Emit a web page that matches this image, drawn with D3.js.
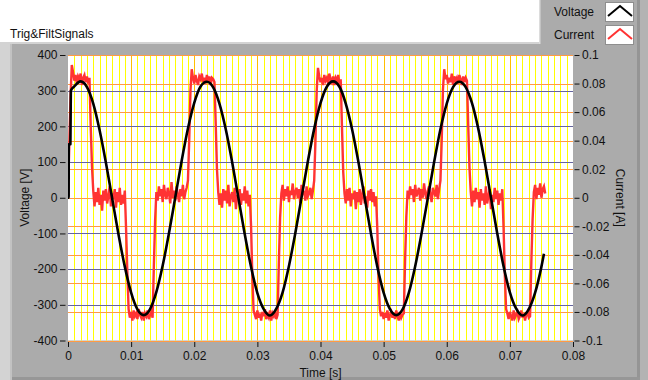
<!DOCTYPE html>
<html>
<head>
<meta charset="utf-8">
<script src="https://d3js.org/d3.v7.min.js"></script>
<style>
body { margin: 0; background: #fff; }
svg text { font-family: "Liberation Sans", Arial, sans-serif; font-size: 12px; fill: #111; }
.axis path.domain { display: none; }
.axis line { stroke: #111; }
</style>
</head>
<body>
<svg width="648" height="380"></svg>
<script>
// voltage samples (time in ms, value in V)
var voltTimeMs = [0, 0.1, 0.12, 0.38, 0.45,
  1, 2, 3, 4, 5, 6, 7, 8, 9, 10, 11, 12, 13, 14, 15, 16, 17, 18, 19, 20,
  21, 22, 23, 24, 25, 26, 27, 28, 29, 30, 31, 32, 33, 34, 35, 36, 37, 38, 39, 40,
  41, 42, 43, 44, 45, 46, 47, 48, 49, 50, 51, 52, 53, 54, 55, 56, 57, 58, 59, 60,
  61, 62, 63, 64, 65, 66, 67, 68, 69, 70, 71, 72, 73, 74, 75, 75.4];
var voltage = [0, 0, 150, 150, 300,
  312, 326, 310, 264, 190, 99, -2, -103, -193, -266, -313, -329, -312, -264, -190, -99, 2, 103, 194, 266,
  312, 325, 309, 263, 191, 100, -1, -102, -194, -267, -312, -330, -311, -265, -191, -100, 1, 102, 193, 265,
  311, 326, 311, 264, 192, 101, 0, -101, -193, -266, -312, -329, -313, -266, -192, -101, -1, 100, 192, 264,
  310, 325, 310, 265, 193, 102, 1, -100, -192, -265, -311, -330, -312, -266, -193, -157];

// current samples every 0.2 ms, value in mA
var currentStepMs = 0.2;
var currentMA = [
  // period 1
  2, 36, 70, 93, 88,
  82, 86, 80, 85, 83, 87, 79, 84, 86, 81, 85, 80, 84,
  50, 22, 5,
  -6, 4, -3, 7, -5, 2, -9, 5, -2, 6, -4, 1, 8, -6, 3, -1, 6, -7, 4, -3, 7, -5, 2, -4, 5,
  -22, -52, -78,
  -84, -80, -86, -79, -83, -81, -85, -78, -82, -84, -80, -86, -81, -83, -79, -85, -82, -80, -84,
  -48, -16,
  4, -2, 8, 1, 6, -3, 9, 2, -1, 7, 3, -4, 11, 0, 5, -2, 8, 2, -3, 6, 1, 9, -1, 4, 7,
  12,
  // period 2
  40, 75, 90,
  84, 80, 86, 82, 79, 85, 83, 87, 81, 84, 80, 86, 82, 85, 79, 84, 83, 81,
  52, 20, 4,
  -5, 3, -7, 6, -2, 5, -4, 9, -6, 1, 4, -3, 7, -8, 2, -1, 6, -5, 3, -2, 8, -4, 5, -6, 2,
  -20, -55, -79,
  -82, -85, -79, -84, -81, -86, -80, -83, -78, -85, -82, -84, -79, -86, -81, -83, -80, -85, -82,
  -46, -14,
  3, 9, -2, 6, 1, 8, -3, 5, 2, 10, -1, 4, 7, 0, 6, -4, 9, 2, 5, -2, 8, 1, 3, 7, -1, 5,
  12,
  // period 3
  40, 75, 91,
  85, 81, 84, 79, 86, 82, 84, 80, 87, 83, 81, 85, 79, 84, 82, 86, 80, 83,
  50, 18, 3,
  -4, 6, -2, 7, -6, 3, -1, 5, -8, 4, -3, 6, -5, 2, 8, -4, 1, -7, 5, -2, 6, -3, 4, -6, 1,
  -22, -56, -78,
  -83, -80, -85, -81, -84, -79, -86, -82, -80, -84, -81, -85, -79, -83, -86, -80, -84, -82, -81,
  -44, -13,
  5, -1, 8, 2, 6, -3, 9, 1, 4, 7, -2, 6, 0, 10, 3, -1, 5, 8, 2, -3, 7, 4, 1, 9, -1, 6,
  12,
  // period 4
  40, 76, 90,
  83, 86, 80, 84, 81, 87, 79, 85, 82, 84, 80, 86, 83, 79, 85, 81, 84, 82,
  51, 21, 4,
  -6, 5, -3, 7, -1, 4, -7, 6, -2, 3, -5, 8, -4, 1, 6, -8, 2, -3, 7, -1, 5, -5, 3, -2, 6,
  -21, -54, -78,
  -81, -85, -80, -83, -86, -79, -84, -82, -80, -85, -83, -79, -84, -81, -86, -82, -80, -84, -83,
  -45, -15,
  4, 9, -1, 7, 2, 10, 0, 6, 8, 3
];

var voltTicks = [-400, -300, -200, -100, 0, 100, 200, 300, 400];
var currentTicks = [-0.1, -0.08, -0.06, -0.04, -0.02, 0, 0.02, 0.04, 0.06, 0.08, 0.1];
var timeTicks = [0, 0.01, 0.02, 0.03, 0.04, 0.05, 0.06, 0.07, 0.08];
var seriesNames = ['Voltage', 'Current'];
var seriesColors = ['#000000', '#ff3333'];

var pL = 68, pR = 573, pT = 55, pB = 340.5;
var svg = d3.select('svg');

// frame / panel
svg.append('rect').attr('x', 0).attr('y', 42).attr('width', 648).attr('height', 338).attr('fill', '#d3d3d3');
svg.append('rect').attr('x', 12).attr('y', 44).attr('width', 628).attr('height', 333).attr('fill', '#ababab');
svg.append('rect').attr('x', 637).attr('y', 0).attr('width', 3).attr('height', 377).attr('fill', '#959595');
svg.append('rect').attr('x', 640).attr('y', 0).attr('width', 8).attr('height', 380).attr('fill', '#b3b3b3');
svg.append('rect').attr('x', 12).attr('y', 377).attr('width', 628).attr('height', 3).attr('fill', '#979797');
svg.append('rect').attr('x', 10).attr('y', 44).attr('width', 2).attr('height', 336).attr('fill', '#c2c2c2');

// legend box
svg.append('rect').attr('x', 539).attr('y', 0).attr('width', 98).attr('height', 44).attr('fill', '#ababab');
svg.append('rect').attr('x', 539).attr('y', 0).attr('width', 1.5).attr('height', 44).attr('fill', '#dcdcdc');

svg.append('text').attr('x', 10).attr('y', 38).text('Trig&FiltSignals');

var x = d3.scaleLinear().domain([0, 0.08]).range([pL, pR]);
var yV = d3.scaleLinear().domain([-400, 400]).range([pB, pT]);
var yI = d3.scaleLinear().domain([-0.1, 0.1]).range([pB, pT]);

svg.append('rect').attr('x', pL).attr('y', pT).attr('width', pR - pL).attr('height', pB - pT).attr('fill', '#fff');

svg.append('clipPath').attr('id', 'plotclip').append('rect')
  .attr('x', pL).attr('y', pT).attr('width', pR - pL).attr('height', pB - pT);

var grid = svg.append('g');
var minor = x.ticks(80).filter(function(d) { return Math.abs(d * 100 - Math.round(d * 100)) > 1e-6; });
grid.selectAll('.vmin').data(minor).enter().append('line')
  .attr('x1', function(d) { return Math.round(x(d)) + 0.5; }).attr('x2', function(d) { return Math.round(x(d)) + 0.5; })
  .attr('y1', pT).attr('y2', pB).attr('stroke', '#ffff00');
grid.selectAll('.vmaj').data(timeTicks.slice(1, -1)).enter().append('line')
  .attr('x1', function(d) { return Math.round(x(d)) + 0.5; }).attr('x2', function(d) { return Math.round(x(d)) + 0.5; })
  .attr('y1', pT).attr('y2', pB).attr('stroke', '#ffbf00');
grid.selectAll('.hv').data(voltTicks).enter().append('line')
  .attr('x1', pL).attr('x2', pR)
  .attr('y1', function(d) { return Math.round(yV(d)) + 0.5; }).attr('y2', function(d) { return Math.round(yV(d)) + 0.5; })
  .attr('stroke', '#64649e');
grid.selectAll('.hi').data(currentTicks).enter().append('line')
  .attr('x1', pL).attr('x2', pR)
  .attr('y1', function(d) { return Math.round(yI(d)) + 0.5; }).attr('y2', function(d) { return Math.round(yI(d)) + 0.5; })
  .attr('stroke', '#ff9a45');

var plot = svg.append('g').attr('clip-path', 'url(#plotclip)');

var currentLine = d3.line()
  .x(function(d, i) { return x(i * currentStepMs / 1000); })
  .y(function(d) { return yI(d / 1000); });
plot.append('path').datum(currentMA).attr('d', currentLine)
  .attr('fill', 'none').attr('stroke', seriesColors[1]).attr('stroke-width', 2.4).attr('stroke-linejoin', 'miter');

var voltLine = d3.line()
  .x(function(d, i) { return x(voltTimeMs[i] / 1000); })
  .y(function(d) { return yV(d); })
  .curve(d3.curveMonotoneX);
plot.append('path').datum(voltage).attr('d', voltLine)
  .attr('fill', 'none').attr('stroke', seriesColors[0]).attr('stroke-width', 2.6).attr('stroke-linejoin', 'round');

// axes
svg.append('g').attr('class', 'axis').attr('transform', 'translate(65.5,0)')
  .call(d3.axisLeft(yV).tickValues(voltTicks).tickSize(5.5).tickPadding(2.5).tickFormat(function(d) { return String(d); }));
svg.append('g').attr('class', 'axis').attr('transform', 'translate(574.5,0)')
  .call(d3.axisRight(yI).tickValues(currentTicks).tickSize(5).tickPadding(2.5).tickFormat(function(d) { return String(+d.toFixed(2)); }));
svg.append('g').attr('class', 'axis').attr('transform', 'translate(0,342)')
  .call(d3.axisBottom(x).tickValues(timeTicks).tickSize(5).tickPadding(4).tickFormat(function(d) { return String(+d.toFixed(2)); }));
svg.selectAll('.axis text').style('font-size', '12px')
  .style('font-family', '"Liberation Sans Narrow", "Liberation Sans", Arial, sans-serif');

svg.append('text').attr('x', (pL + pR) / 2).attr('y', 376.5).attr('text-anchor', 'middle').text('Time [s]');
svg.append('text').attr('transform', 'translate(29,' + ((pT + pB) / 2) + ') rotate(-90)')
  .attr('text-anchor', 'middle').text('Voltage [V]');
svg.append('text').attr('transform', 'translate(616,' + ((pT + pB) / 2) + ') rotate(90)')
  .attr('text-anchor', 'middle').text('Current [A]');

// legend
var leg = svg.append('g').selectAll('g').data(seriesNames).enter().append('g')
  .attr('transform', function(d, i) { return 'translate(0,' + (i * 23) + ')'; });
leg.append('text').attr('x', 554).attr('y', 16).text(function(d) { return d; });
leg.append('rect').attr('x', 605.5).attr('y', 2.5).attr('width', 28).attr('height', 19)
  .attr('fill', '#fff').attr('stroke', '#8e8e8e');
leg.append('polyline').attr('points', '608,16 620,6 632,16')
  .attr('fill', 'none').attr('stroke-width', 2).attr('stroke', function(d, i) { return seriesColors[i]; });
</script>
</body>
</html>
